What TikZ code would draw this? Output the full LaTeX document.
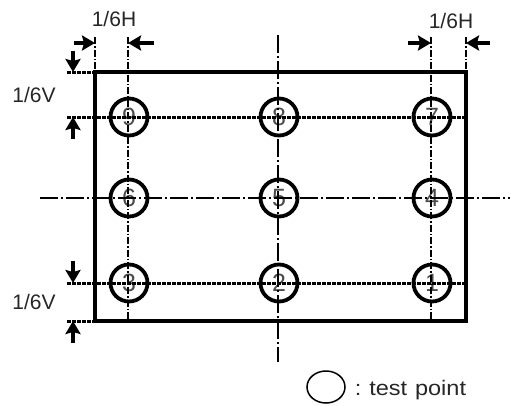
\documentclass[tikz,border=0pt]{standalone}
\usepackage{fontspec}
\setmainfont{Liberation Sans}
\usetikzlibrary{arrows.meta}
\tikzset{
  tp/.style={circle, draw, line width=3.8pt, minimum size=37pt, inner sep=0pt,
    font=\fontsize{25}{25}\selectfont, text=black!70},
  rowline/.style={line width=3pt, dash pattern=on 3.5pt off 1.5pt},
  colline/.style={line width=1.5pt, dash pattern=on 7pt off 2pt on 1.5pt off 2pt},
  axisline/.style={line width=2pt, dash pattern=on 18pt off 3pt on 2pt off 3pt},
  dimarrow/.style={line width=3.5pt, -{Stealth[length=13pt,width=15pt,inset=2pt]}},
  dimlabel/.style={font=\fontsize{21}{21}\selectfont, text=black!85}
}
\begin{document}
\begin{tikzpicture}[x=1pt,y=-1pt]
      \useasboundingbox (0,0) rectangle (512,405);
      % panel outline
      \draw[line width=3.6pt] (95,72) coordinate (tl) rectangle (466,321) coordinate (br);
      \coordinate (tr) at (466,72);
      \coordinate (bl) at (95,321);
      % test points
      \draw
        (129,117) node[tp] (9){9}
        (279,117) node[tp] (8){8}
        (432,117) node[tp] (7){7}
        (129,198) node[tp] (6){6}
        (279,198) node[tp] (5){5}
        (432,198) node[tp] (4){4}
        (129,283) node[tp] (3){3}
        (279,283) node[tp] (2){2}
        (432,283) node[tp] (1){1};
      % extension ends
      \coordinate (c1top) at (128,37);
      \coordinate (c3top) at (431,37);
      \coordinate (eLtop) at (95,37);
      \coordinate (eRtop) at (466,37);
      \coordinate (r1left) at (67,117);
      \coordinate (r3left) at (67,283);
      \coordinate (topleft) at (67,72);
      \coordinate (botleft) at (67,321);
      \coordinate (axN) at (278,35);
      \coordinate (axS) at (278,362);
      \coordinate (axW) at (40,198);
      \coordinate (axE) at (510,198);
      \begin{scope}
        \draw[axisline] (axN) to (axS);
        \draw[axisline] (axW) to (axE);
        \draw[colline] (c1top) to (c1top |- bl);
        \draw[colline] (c3top) to (c3top |- bl);
        \draw[colline] (eLtop) to (tl);
        \draw[colline] (eRtop) to (tr);
        \draw[rowline] (r1left) to (r1left -| tr);
        \draw[rowline] (r3left) to (r3left -| tr);
        \draw[rowline] (topleft) to (tl);
        \draw[rowline] (botleft) to (bl);
      \end{scope}
      % dimension arrows
      \draw[dimarrow] (74,43) to (eLtop |- 0,43);
      \draw[dimarrow] (154,43) to (c1top |- 0,43);
      \draw[dimarrow] (408,43) to (c3top |- 0,43);
      \draw[dimarrow] (490,43) to (eRtop |- 0,43);
      \draw[dimarrow] (73,51) to (73,72);
      \draw[dimarrow] (73,139) to (73,117);
      \draw[dimarrow] (73,261) to (73,283);
      \draw[dimarrow] (73,343) to (73,321);
      % labels
      \node[dimlabel] (hL) at (114,19) {1/6H};
      \node[dimlabel] (hR) at (451,21) {1/6H};
      \node[dimlabel] (vT) at (34,95) {1/6V};
      \node[dimlabel] (vB) at (34,302) {1/6V};
      % legend
      \draw[line width=1.5pt] (326,387) ellipse (19pt and 16pt);
      \node[dimlabel, anchor=base west, xscale=1.12] (legend) at (351,395) {:\,\,test\,\,point};
    \end{tikzpicture}
\end{document}
